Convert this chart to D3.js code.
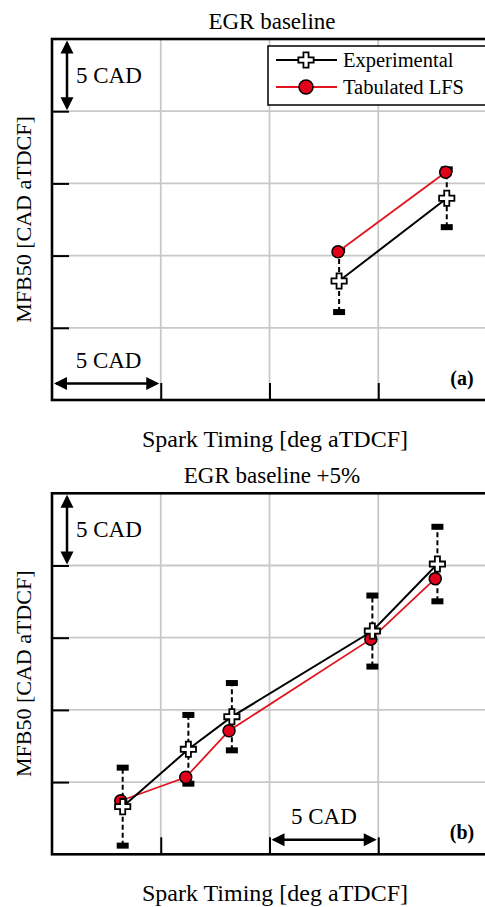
<!DOCTYPE html>
<html><head><meta charset="utf-8">
<script src="https://cdn.jsdelivr.net/npm/d3@7"></script>
<style>html,body{margin:0;padding:0;background:#fff;}svg{display:block;}</style>
</head><body>
<svg id="chart" width="485" height="907"></svg>
<script>
// ---- data (CAD units, relative) ----
const panelTitles = ["EGR baseline", "EGR baseline +5%"];
const panelTags = ["(a)", "(b)"];
const xLabel = "Spark Timing [deg aTDCF]";
const yLabel = "MFB50 [CAD aTDCF]";
const seriesNames = ["Experimental", "Tabulated LFS"];
const xTicks = [5, 10, 15];
const yTicks = [5, 10, 15, 20];

// panel (a)
const aExpX = [13.2, 18.15];
const aExpY = [8.24, 13.97];
const aExpErr = [2.15, 2.0];
const aLfsX = [13.15, 18.1];
const aLfsY = [10.27, 15.77];

// panel (b)
const bExpX = [3.25, 6.27, 8.27, 14.73, 17.72];
const bExpY = [3.30, 7.27, 9.53, 15.46, 20.10];
const bExpErr = [2.70, 2.38, 2.33, 2.46, 2.58];
const bLfsX = [3.16, 6.15, 8.14, 14.66, 17.62];
const bLfsY = [3.71, 5.33, 8.56, 14.90, 19.09];

const panels = [
  {top: 39, bottom: 400, title: panelTitles[0], tag: panelTags[0],
   exp: aExpX.map((x,i)=>({x, y:aExpY[i], e:aExpErr[i]})),
   lfs: aLfsX.map((x,i)=>({x, y:aLfsY[i]})),
   hArrow: {x0:0, x1:5, y:1.15, tx:2.6, ty:2.25}, legend: true},
  {top: 493.3, bottom: 854.3, title: panelTitles[1], tag: panelTags[1],
   exp: bExpX.map((x,i)=>({x, y:bExpY[i], e:bExpErr[i]})),
   lfs: bLfsX.map((x,i)=>({x, y:bLfsY[i]})),
   hArrow: {x0:10, x1:15, y:1.0, tx:12.5, ty:2.1}, legend: false}
];

const svg = d3.select("#chart");
const FONT = "'Liberation Serif','Times New Roman',serif";
const left = 52, right = 487;
const x = d3.scaleLinear().domain([0, 20]).range([left, right]);

const cross = d3.symbol().type(d3.symbolCross).size(130);

function arrowHead(g, px, py, dir) {
  // dir: 'up','down','left','right'
  const L = 13, W = 6.5;
  let pts;
  if (dir === 'up') pts = [[px,py],[px-W,py+L],[px+W,py+L]];
  if (dir === 'down') pts = [[px,py],[px-W,py-L],[px+W,py-L]];
  if (dir === 'left') pts = [[px,py],[px+L,py-W],[px+L,py+W]];
  if (dir === 'right') pts = [[px,py],[px-L,py-W],[px-L,py+W]];
  g.append("path").attr("d", d3.line()(pts) + "Z").attr("fill", "#000");
}

panels.forEach(p => {
  const y = d3.scaleLinear().domain([0, 25]).range([p.bottom, p.top]);
  const g = svg.append("g");

  // gridlines
  g.selectAll(".gx").data(xTicks).join("line")
    .attr("x1", d=>x(d)).attr("x2", d=>x(d)).attr("y1", p.top).attr("y2", p.bottom)
    .attr("stroke", "#c8c8c8").attr("stroke-width", 1.8);
  g.selectAll(".gy").data(yTicks).join("line")
    .attr("x1", left).attr("x2", right).attr("y1", d=>y(d)).attr("y2", d=>y(d))
    .attr("stroke", "#c8c8c8").attr("stroke-width", 1.8);

  // axes ticks (inward)
  const ax = g.append("g").attr("transform", `translate(0,${p.bottom})`)
    .call(d3.axisBottom(x).tickValues(xTicks).tickSize(-17).tickFormat(""));
  ax.select(".domain").remove();
  ax.selectAll("line").attr("stroke", "#000").attr("stroke-width", 2);
  const ay = g.append("g").attr("transform", `translate(${left},0)`)
    .call(d3.axisLeft(y).tickValues(yTicks).tickSize(-17).tickFormat(""));
  ay.select(".domain").remove();
  ay.selectAll("line").attr("stroke", "#000").attr("stroke-width", 2);

  // frame
  g.append("rect").attr("x", left).attr("y", p.top).attr("width", right-left).attr("height", p.bottom-p.top)
    .attr("fill", "none").attr("stroke", "#000").attr("stroke-width", 2.6);

  // title
  svg.append("text").attr("x", 272).attr("y", p.top - 10).attr("text-anchor", "middle")
    .attr("font-family", FONT).attr("font-size", 23).text(p.title);
  // x label
  svg.append("text").attr("x", 275).attr("y", p.bottom + 47).attr("text-anchor", "middle")
    .attr("font-family", FONT).attr("font-size", 24).text(xLabel);
  // y label
  const cy = (p.top + p.bottom) / 2;
  svg.append("text").attr("transform", `translate(31,${cy}) rotate(-90)`).attr("text-anchor", "middle")
    .attr("font-family", FONT).attr("font-size", 22).text(yLabel);

  // vertical 5 CAD arrow
  const vx = 67;
  g.append("line").attr("x1", vx).attr("x2", vx).attr("y1", y(25)+4).attr("y2", y(20)-4)
    .attr("stroke", "#000").attr("stroke-width", 2.5);
  arrowHead(g, vx, y(25)+1.5, 'up');
  arrowHead(g, vx, y(20)-1, 'down');
  svg.append("text").attr("x", 76).attr("y", y(22.5)+8)
    .attr("font-family", FONT).attr("font-size", 23).text("5 CAD");

  // horizontal 5 CAD arrow
  const h = p.hArrow;
  g.append("line").attr("x1", x(h.x0)+4).attr("x2", x(h.x1)-4).attr("y1", y(h.y)).attr("y2", y(h.y))
    .attr("stroke", "#000").attr("stroke-width", 2.5);
  arrowHead(g, x(h.x0)+2, y(h.y), 'left');
  arrowHead(g, x(h.x1)-1.5, y(h.y), 'right');
  svg.append("text").attr("x", x(h.tx)).attr("y", y(h.ty)).attr("text-anchor", "middle")
    .attr("font-family", FONT).attr("font-size", 23).text("5 CAD");

  // tag
  svg.append("text").attr("x", 462).attr("y", p.bottom - 15).attr("text-anchor", "middle")
    .attr("font-family", FONT).attr("font-size", 20).attr("font-weight", "bold").text(p.tag);

  // error bars
  const eb = g.append("g");
  p.exp.forEach(d => {
    eb.append("line").attr("x1", x(d.x)).attr("x2", x(d.x)).attr("y1", y(d.y - d.e)).attr("y2", y(d.y + d.e))
      .attr("stroke", "#000").attr("stroke-width", 2).attr("stroke-dasharray", "5,3");
    [d.y - d.e, d.y + d.e].forEach(v => {
      eb.append("rect").attr("x", x(d.x) - 6).attr("y", y(v) - 3).attr("width", 12).attr("height", 6).attr("fill", "#000");
    });
  });

  const line = d3.line().x(d=>x(d.x)).y(d=>y(d.y));
  g.append("path").attr("d", line(p.lfs)).attr("fill", "none").attr("stroke", "#e0141e").attr("stroke-width", 1.8);
  g.append("path").attr("d", line(p.exp)).attr("fill", "none").attr("stroke", "#000").attr("stroke-width", 2);

  g.selectAll(".lfs").data(p.lfs).join("circle")
    .attr("cx", d=>x(d.x)).attr("cy", d=>y(d.y)).attr("r", 6)
    .attr("fill", "#e3001b").attr("stroke", "#000").attr("stroke-width", 1.5);
  g.selectAll(".exp").data(p.exp).join("path")
    .attr("transform", d=>`translate(${x(d.x)},${y(d.y)})`).attr("d", cross)
    .attr("fill", "#fff").attr("stroke", "#000").attr("stroke-width", 1.8);

  if (p.legend) {
    const lg = svg.append("g");
    lg.append("rect").attr("x", 268).attr("y", 46).attr("width", 230).attr("height", 59)
      .attr("fill", "#fff").attr("stroke", "#000").attr("stroke-width", 1.5);
    const rows = [60, 87];
    lg.append("line").attr("x1", 276).attr("x2", 337).attr("y1", rows[0]).attr("y2", rows[0]).attr("stroke", "#000").attr("stroke-width", 2);
    lg.append("path").attr("transform", `translate(306,${rows[0]})`).attr("d", cross)
      .attr("fill", "#fff").attr("stroke", "#000").attr("stroke-width", 1.8);
    lg.append("line").attr("x1", 276).attr("x2", 337).attr("y1", rows[1]).attr("y2", rows[1]).attr("stroke", "#e0141e").attr("stroke-width", 1.8);
    lg.append("circle").attr("cx", 306).attr("cy", rows[1]).attr("r", 7)
      .attr("fill", "#e3001b").attr("stroke", "#000").attr("stroke-width", 1.5);
    seriesNames.forEach((n, i) => {
      lg.append("text").attr("x", 343).attr("y", rows[i] + 6.5)
        .attr("font-family", FONT).attr("font-size", 20.5).text(n);
    });
  }
});
</script>
</body></html>
